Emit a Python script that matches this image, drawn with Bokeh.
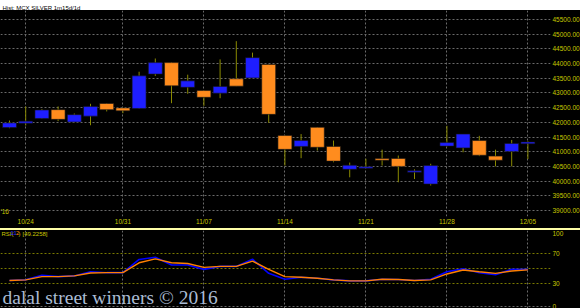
import datetime as dt
from bokeh.plotting import figure
from bokeh.layouts import column
from bokeh.models import (ColumnDataSource, FixedTicker, NumeralTickFormatter, Label, Range1d, Grid)
from bokeh.embed import file_html
from bokeh.resources import INLINE

# ---------------- data ----------------
dates = ["2016-10-21", "2016-10-24", "2016-10-25", "2016-10-26", "2016-10-27", "2016-10-28",
         "2016-10-30", "2016-10-31", "2016-11-01", "2016-11-02", "2016-11-03", "2016-11-04",
         "2016-11-07", "2016-11-08", "2016-11-09", "2016-11-10", "2016-11-11",
         "2016-11-14", "2016-11-15", "2016-11-16", "2016-11-17", "2016-11-18",
         "2016-11-21", "2016-11-22", "2016-11-23", "2016-11-24", "2016-11-25",
         "2016-11-28", "2016-11-29", "2016-11-30", "2016-12-01", "2016-12-02", "2016-12-05"]
opens = [41820, 41970, 42130, 42430, 42010, 42210, 42640, 42490, 42470, 43640, 44030, 43190,
         43080, 42990, 43480, 43510, 43970, 41550, 41180, 41830, 41180, 40400,
         40440, 40770, 40770, 40300, 39900, 41190, 41130, 41380, 40850, 41010, 41270]
highs = [42060, 42540, 42450, 42540, 42300, 42630, 42650, 42500, 43720, 44170, 44040, 43620,
         43090, 44140, 44760, 44370, 43970, 41560, 41600, 41840, 41380, 40630,
         40760, 41070, 40870, 40400, 40590, 41880, 41600, 41540, 41070, 41400, 41360]
lows = [41800, 41890, 42120, 42040, 42000, 41900, 42370, 42310, 42460, 43580, 42650, 42970,
        42560, 42820, 43230, 43510, 41980, 40530, 40780, 41040, 40640, 40130,
        40430, 40530, 39960, 40070, 39850, 41180, 40980, 40850, 40500, 40500, 40750]
closes = [41980, 42040, 42420, 42100, 42260, 42540, 42430, 42390, 43580, 44030, 43240, 43410,
          42850, 43220, 43230, 44200, 42270, 41080, 41380, 41150, 40680, 40540,
          40490, 40710, 40500, 40350, 40530, 41310, 41600, 40880, 40710, 41280, 41330]
rsi = [34.4, 35.3, 41.3, 39.6, 40.5, 46.1, 44.8, 44.8, 62.3, 65.3, 54.9, 54.9, 49.2, 53.1, 53.1,
       62.7, 43.9, 36.1, 38.7, 37.4, 35.3, 34.0, 34.0, 36.1, 35.7, 34.4, 36.1, 46.1, 50.0,
       44.8, 42.2, 49.2, 49.2258]
rsi_signal = [34.4, 35.3, 39.6, 39.6, 40.5, 44.4, 44.8, 44.8, 57.9, 63.1, 57.9, 57.0, 51.8, 53.1,
              53.1, 60.1, 49.2, 39.6, 38.7, 37.4, 35.3, 34.0, 34.0, 36.1, 35.7, 34.4, 35.3,
              43.1, 48.4, 46.1, 43.9, 47.0, 48.5]
price_ticks = list(range(39000, 46000, 500))
rsi_ticks = [0, 30, 70, 100]
rsi_grid_levels = [30, 50, 70]
title_text = "Hist: MCX SILVER 1m15d/1d"
year_text = "'16"
last_price_text = "41330"
watermark = "dalal street winners \u00a9 2016"

# ---------------- derived ----------------
xs = list(range(len(dates)))
dobj = [dt.date.fromisoformat(d) for d in dates]
tick_idx = [i for i, d in enumerate(dobj) if d.weekday() == 0]
tick_lbl = {i: dobj[i].strftime("%m/%d") for i in tick_idx}
BLUE = "#1e1eff"
ORANGE = "#ff8c1e"
colors = [BLUE if c >= o else ORANGE for o, c in zip(opens, closes)]
src = ColumnDataSource(dict(x=xs, high=highs, low=lows,
                            top=[max(o, c) for o, c in zip(opens, closes)],
                            bottom=[min(o, c) for o, c in zip(opens, closes)],
                            color=colors))

AXC = "#c8c800"
FONT = "Liberation Sans"
GRIDC = "#6a6a6a"
SEPC = "#ffffa8"
BLACK_BG = {"background-color": "black"}

xr = Range1d(-0.556, 33.395)


def style_axis(ax, size="6.5px", standoff=2):
    ax.axis_line_color = None
    ax.major_tick_line_color = None
    ax.minor_tick_line_color = None
    ax.major_tick_out = 0
    ax.major_tick_in = 0
    ax.minor_tick_out = 0
    ax.minor_tick_in = 0
    ax.major_label_text_color = AXC
    ax.major_label_text_font = FONT
    ax.major_label_text_font_size = size
    ax.major_label_standoff = standoff


# ---------------- title band ----------------
t = figure(width=580, height=10, output_backend="svg", toolbar_location=None,
           x_axis_location=None, y_axis_location=None, min_border=0,
           background_fill_color="white", border_fill_color="white", outline_line_color=None,
           styles={"background-color": "white"})
t.grid.visible = False
t.add_layout(Label(x=2, y=5, x_units="screen", y_units="screen", text=title_text,
                   text_font=FONT, text_font_size="6px", text_baseline="middle",
                   text_color="black"))

# ---------------- price panel ----------------
p = figure(frame_width=550, frame_height=206, x_range=xr, y_range=Range1d(38796, 45803),
           output_backend="svg", toolbar_location=None, y_axis_location="right",
           background_fill_color="black", border_fill_color="black", outline_line_color=None,
           min_border_left=0, min_border_top=0, min_border_right=30, min_border_bottom=12,
           styles=BLACK_BG)
xa = p.xaxis[0]
xa.ticker = FixedTicker(ticks=tick_idx)
xa.major_label_overrides = tick_lbl
style_axis(xa, standoff=1)
ya = p.yaxis[0]
ya.ticker = FixedTicker(ticks=price_ticks)
ya.formatter = NumeralTickFormatter(format="0.00")
style_axis(ya)
p.xgrid.ticker = FixedTicker(ticks=tick_idx)
p.ygrid.ticker = FixedTicker(ticks=price_ticks)
p.grid.grid_line_color = GRIDC
p.grid.grid_line_dash = "2 2"

p.segment(x0="x", y0="low", x1="x", y1="high", line_color="#8a8a00", line_width=1, source=src)
p.vbar(x="x", width=0.86, top="top", bottom="bottom", fill_color="color",
       line_color="#151515", line_width=0.6, source=src)

p.add_layout(Label(x=0, y=5, x_units="screen", y_units="screen", text=year_text,
                   text_font=FONT, text_font_size="6.5px", text_baseline="middle",
                   text_color=AXC))
p.add_layout(Label(x=552, y=closes[-1], x_units="screen", y_units="data", text=last_price_text,
                   text_font=FONT, text_font_size="6.5px", text_baseline="middle",
                   text_color="black", background_fill_color="#ffff00", padding=1))

# ---------------- separator ----------------
s = figure(width=580, height=2, output_backend="svg", toolbar_location=None,
           x_axis_location=None, y_axis_location=None, min_border=0,
           background_fill_color=SEPC, border_fill_color=SEPC, outline_line_color=None,
           styles={"background-color": SEPC})
s.grid.visible = False

# ---------------- RSI panel ----------------
r = figure(frame_width=550, frame_height=78, x_range=xr, y_range=Range1d(-2.65, 100.66),
           output_backend="svg", toolbar_location=None, y_axis_location="right",
           x_axis_location=None,
           background_fill_color="black", border_fill_color="black", outline_line_color=None,
           min_border_left=0, min_border_top=0, min_border_right=30, min_border_bottom=0,
           styles=BLACK_BG)
ra = r.yaxis[0]
ra.ticker = FixedTicker(ticks=rsi_ticks)
style_axis(ra)
r.xgrid.ticker = FixedTicker(ticks=tick_idx)
r.xgrid.grid_line_color = GRIDC
r.xgrid.grid_line_dash = "2 2"
r.ygrid.ticker = FixedTicker(ticks=rsi_grid_levels)
r.ygrid.grid_line_color = "#7a7a00"
r.ygrid.grid_line_dash = "2 2"
r.add_layout(Grid(dimension=1, ticker=FixedTicker(ticks=[0]), grid_line_color=GRIDC,
                  grid_line_dash="2 2"))

r.line(xs, rsi, line_color="#0000ff", line_width=1.6)
r.line(xs, rsi_signal, line_color="#ff8000", line_width=1.4)

for txt, xo, col in [("RSI(", 1, AXC), ("11", 10, "#3030ff"), ("2", 15.5, "#ff8000"),
                     (")", 18, AXC), ("[%.4f]" % rsi[-1], 22, AXC)]:
    r.add_layout(Label(x=xo, y=77.5, x_units="screen", y_units="screen", text=txt,
                       text_font=FONT, text_font_size="6px", text_baseline="top",
                       text_color=col))
r.add_layout(Label(x=552, y=rsi[-1], x_units="screen", y_units="data", text="%.4f" % rsi[-1],
                   text_font=FONT, text_font_size="6.5px", text_baseline="middle",
                   text_color="black", background_fill_color="#ffff00", padding=1))
r.add_layout(Label(x=2, y=11, x_units="screen", y_units="screen", text=watermark,
                   text_font="Liberation Serif", text_font_size="19.5px",
                   text_baseline="alphabetic", text_color="#aabcd4"))

layout = column(t, p, s, r, spacing=0, styles=BLACK_BG)
open("out.html", "w").write(file_html(layout, INLINE))
